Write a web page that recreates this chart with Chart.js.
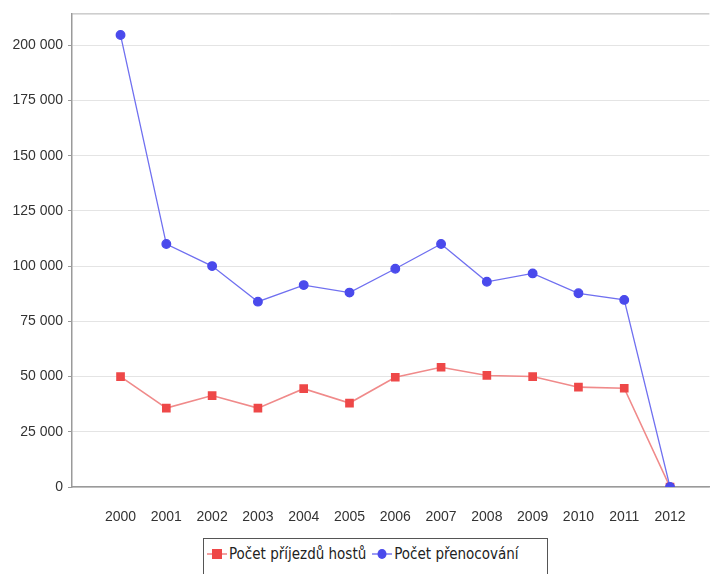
<!DOCTYPE html>
<html>
<head>
<meta charset="utf-8">
<script src="https://cdn.jsdelivr.net/npm/chart.js@4/dist/chart.umd.min.js"></script>
<style>
  html, body { margin: 0; padding: 0; background: #fff; overflow: hidden; }
  #wrap { position: relative; width: 716px; height: 574px; }
  #c { position: absolute; left: 0; top: 0; }
  #legend {
    position: absolute; left: 203px; top: 538px; width: 345px; height: 40px;
    border: 1px solid #555; box-sizing: border-box; background: #fff;
    font-family: "DejaVu Sans Condensed", "DejaVu Sans", sans-serif; font-size: 15px; color: #222;
    display: flex; align-items: flex-start; padding: 6px 0 0 3px; white-space: nowrap;
  }
  .item { display: flex; align-items: center; margin-right: 6px; }
  .item svg { margin-right: 2px; }
</style>
</head>
<body>
<div id="wrap">
  <canvas id="c" width="716" height="574"></canvas>
  <div id="legend"></div>
</div>
<script>
const years = [2000, 2001, 2002, 2003, 2004, 2005, 2006, 2007, 2008, 2009, 2010, 2011, 2012];
const arrivals = [50000, 35700, 41400, 35700, 44500, 38000, 49700, 54200, 50500, 50000, 45200, 44700, 0];
const overnights = [204600, 110000, 100000, 83900, 91400, 88000, 98800, 110000, 92900, 96700, 87700, 84700, 0];
const seriesNames = ["Počet příjezdů hostů", "Počet přenocování"];
const yTicks = [0, 25000, 50000, 75000, 100000, 125000, 150000, 175000, 200000];

const redLine = "#f08a8a", redPoint = "#ee4848";
const blueLine = "#7070f0", bluePoint = "#4a4aec";

function fmt(v) { return String(v).replace(/\B(?=(\d{3})+(?!\d))/g, " "); }

const framePlugin = {
  id: "frame",
  afterDraw(chart) {
    const { ctx, chartArea } = chart;
    ctx.save();
    ctx.strokeStyle = "#b0b0b0";
    ctx.lineWidth = 1;
    ctx.beginPath();
    ctx.moveTo(chartArea.left, chartArea.top + 0.5);
    ctx.lineTo(chartArea.right, chartArea.top + 0.5);
    ctx.stroke();
    ctx.restore();
  }
};

new Chart(document.getElementById("c"), {
  type: "line",
  data: {
    datasets: [
      {
        label: seriesNames[0],
        data: years.map((y, i) => ({ x: y, y: arrivals[i] })),
        borderColor: redLine, backgroundColor: redPoint,
        pointBackgroundColor: redPoint, pointBorderColor: redPoint,
        pointStyle: "rect", pointRadius: 5, borderWidth: 1.6, tension: 0,
        order: 1
      },
      {
        label: seriesNames[1],
        data: years.map((y, i) => ({ x: y, y: overnights[i] })),
        borderColor: blueLine, backgroundColor: bluePoint,
        pointBackgroundColor: bluePoint, pointBorderColor: bluePoint,
        pointStyle: "circle", pointRadius: 4.3, borderWidth: 1.3, tension: 0,
        order: 0
      }
    ]
  },
  options: {
    responsive: false,
    animation: false,
    layout: { padding: { top: 11, left: 0, right: 0, bottom: 47 } },
    plugins: { legend: { display: false }, tooltip: { enabled: false } },
    scales: {
      x: {
        type: "linear",
        min: 1998.94, max: 2012.86,
        afterBuildTicks(s) { s.ticks = years.map(v => ({ value: v })); },
        afterFit(s) { s.height = 40; },
        grid: { display: false },
        border: { display: true, color: "#9a9a9a", width: 1.5 },
        ticks: {
          callback: v => String(v),
          color: "#333", padding: 14, maxRotation: 0, autoSkip: false,
          font: { family: "'Liberation Sans Narrow', 'Liberation Sans', sans-serif", size: 14 }
        }
      },
      y: {
        min: 0, max: 214400,
        afterBuildTicks(s) { s.ticks = yTicks.map(v => ({ value: v })); },
        afterFit(s) { s.width = 72; },
        grid: {
          color: "#e4e4e4", borderDash: [2, 2], tickLength: 4,
          tickColor: "#9a9a9a", tickBorderDash: [], tickWidth: 1
        },
        border: { display: true, color: "#9a9a9a", width: 1.5 },
        ticks: {
          callback: v => fmt(v),
          color: "#333", padding: 5,
          font: { family: "'Liberation Sans Narrow', 'Liberation Sans', sans-serif", size: 14 }
        }
      }
    }
  },
  plugins: [framePlugin]
});

// HTML legend
const legend = document.getElementById("legend");
const markers = [
  '<svg width="20" height="14"><line x1="0" y1="7" x2="20" y2="7" stroke="' + redLine + '" stroke-width="1.6"/><rect x="5" y="2" width="10" height="10" fill="' + redPoint + '"/></svg>',
  '<svg width="20" height="14"><line x1="0" y1="7" x2="20" y2="7" stroke="' + blueLine + '" stroke-width="1.4"/><ellipse cx="10" cy="7" rx="4.5" ry="5" fill="' + bluePoint + '"/></svg>'
];
seriesNames.forEach((n, i) => {
  const d = document.createElement("span");
  d.className = "item";
  d.innerHTML = markers[i] + "<span>" + n + "</span>";
  legend.appendChild(d);
});
</script>
</body>
</html>
